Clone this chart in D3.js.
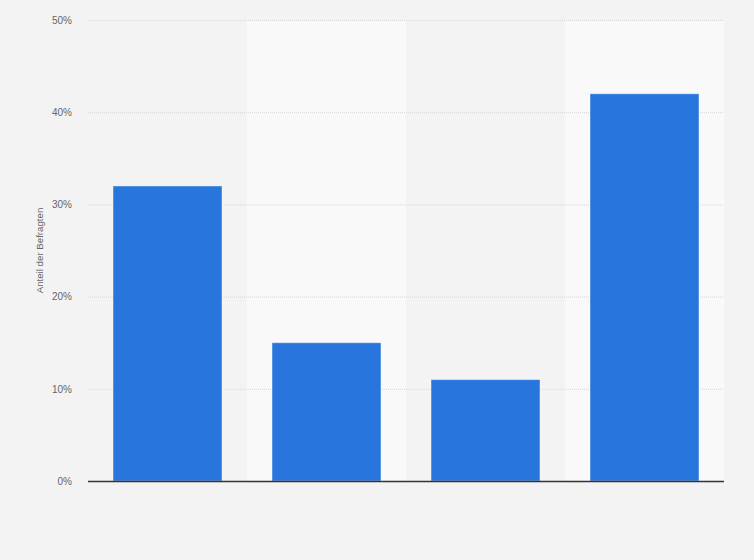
<!DOCTYPE html>
<html><head><meta charset="utf-8">
<script src="https://cdn.jsdelivr.net/npm/d3@7"></script>
<style>
html,body{margin:0;padding:0;background:#f3f3f3;}
svg{display:block;font-family:"Liberation Sans",Arial,sans-serif;}
</style></head>
<body>
<svg id="chart" width="754" height="560"></svg>
<script>
const categories = ["A", "B", "C", "D"];
const values = [32, 15, 11, 42];
const yTicks = [0, 10, 20, 30, 40, 50];
const yLabel = "Anteil der Befragten";

const svg = d3.select("#chart");
const W = 754, H = 560;
const m = {left: 88, right: 30, top: 20, bottom: 79};
const iw = W - m.left - m.right, ih = H - m.top - m.bottom;

svg.append("rect").attr("width", W).attr("height", H).attr("fill", "#f3f3f3");

const x = d3.scaleBand().domain(categories).range([0, iw]).paddingInner(0).paddingOuter(0);
const y = d3.scaleLinear().domain([0, 50]).range([ih, 0]);

const g = svg.append("g").attr("transform", `translate(${m.left},${m.top})`);

// alternating column bands
g.selectAll("rect.band").data(categories).enter().append("rect")
  .attr("x", d => x(d)).attr("y", 0)
  .attr("width", x.bandwidth()).attr("height", ih)
  .attr("fill", (d, i) => i % 2 ? "#f9f9f9" : "#f3f3f3");

// gridlines
g.selectAll("line.grid").data(yTicks.filter(t => t > 0)).enter().append("line")
  .attr("x1", 0).attr("x2", iw)
  .attr("y1", d => y(d) + 0.5).attr("y2", d => y(d) + 0.5)
  .attr("stroke", "#d6d6d6").attr("stroke-dasharray", "1,1");

// y axis
const yAxis = d3.axisLeft(y).tickValues(yTicks).tickFormat(d => d + "%").tickSize(0).tickPadding(16);
const ya = g.append("g").call(yAxis);
ya.select(".domain").remove();
ya.selectAll("text").attr("fill", "#666").attr("font-size", "10px");

// bars
const pad = 25;
g.selectAll("rect.bar").data(values).enter().append("rect")
  .attr("x", (d, i) => x(categories[i]) + pad)
  .attr("width", x.bandwidth() - 2 * pad)
  .attr("y", d => y(d))
  .attr("height", d => ih - y(d))
  .attr("fill", "#2876dd")
  .attr("stroke", "rgba(255,255,255,0.45)").attr("stroke-width", 1);

// baseline
g.append("line").attr("x1", 0).attr("x2", iw)
  .attr("y1", ih + 0.5).attr("y2", ih + 0.5)
  .attr("stroke", "#333").attr("stroke-width", 1.3);

// y label
svg.append("text")
  .attr("transform", `translate(43,${m.top + ih / 2}) rotate(-90)`)
  .attr("text-anchor", "middle")
  .attr("fill", "#666").attr("font-size", "9.7px")
  .text(yLabel);
</script>
</body></html>
